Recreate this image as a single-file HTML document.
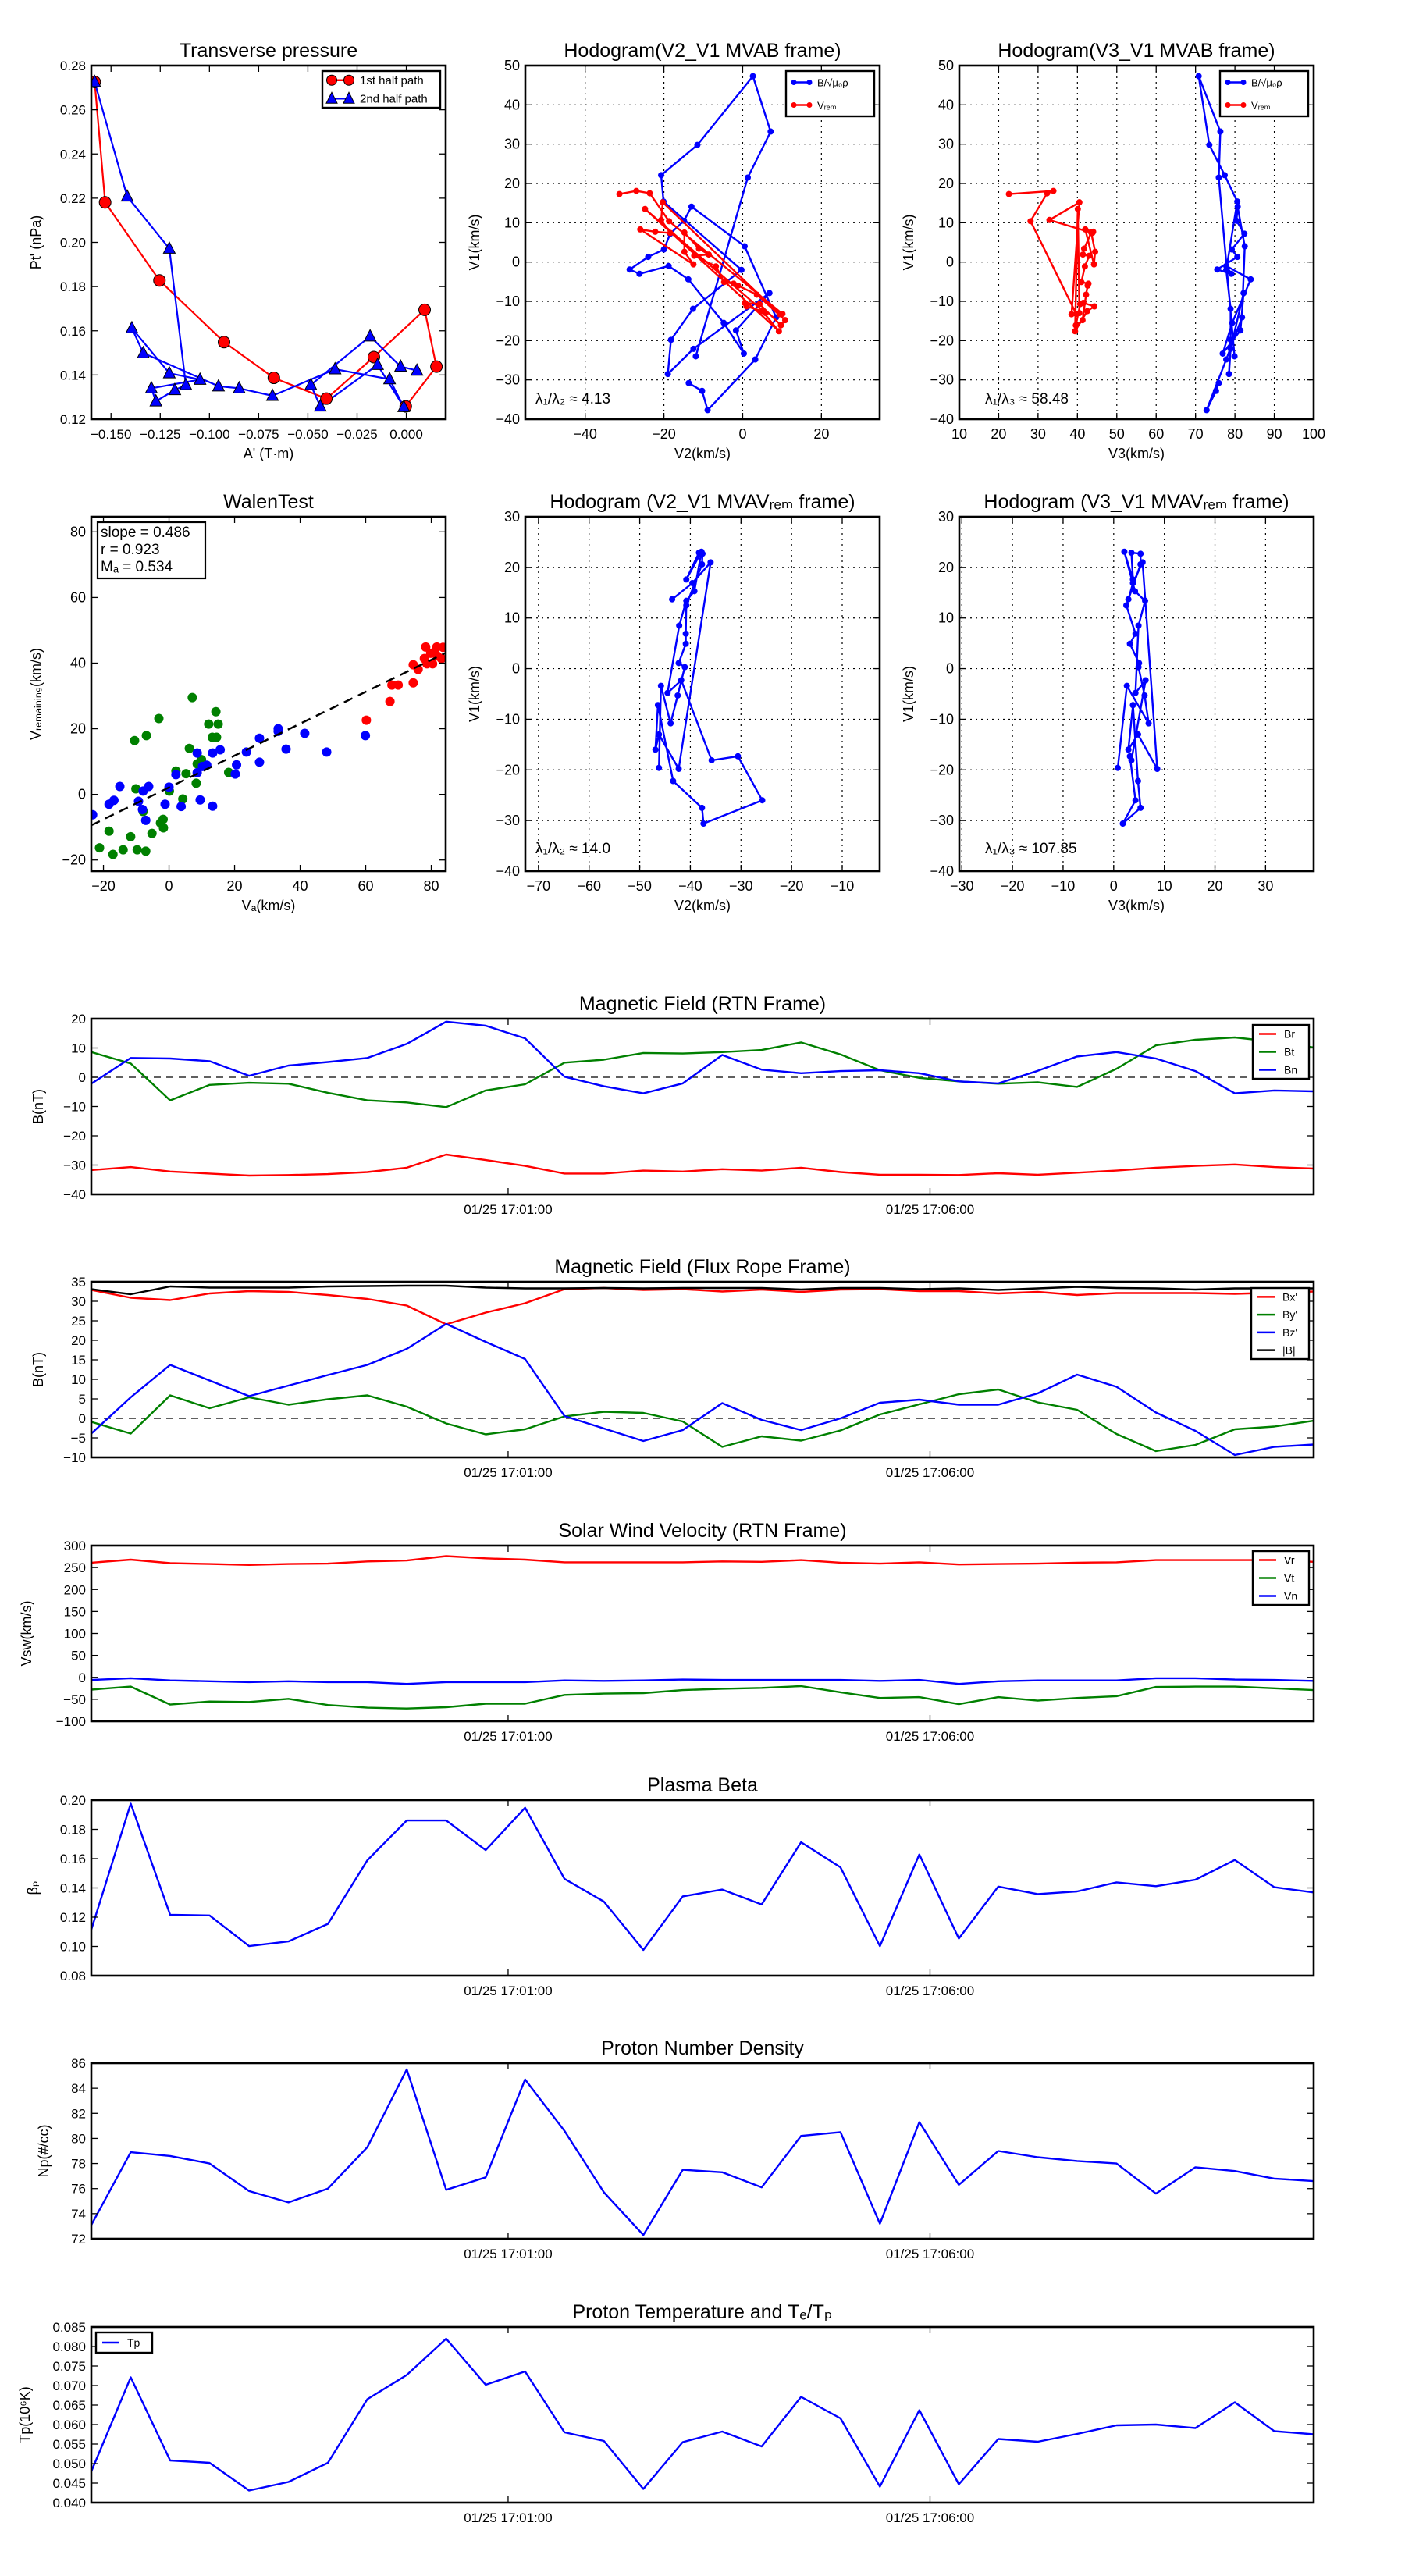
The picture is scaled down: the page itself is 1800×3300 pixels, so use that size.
<!DOCTYPE html>
<html><head><meta charset="utf-8"><title>Flux rope analysis</title>
<style>
html,body{margin:0;padding:0;background:#fff;}
svg{display:block;font-family:"Liberation Sans","DejaVu Sans",sans-serif;}
</style></head>
<body>
<svg id="fig" xmlns="http://www.w3.org/2000/svg" width="1800" height="3300" viewBox="0 0 1800 3300"></svg>
<script>
// ---------- Transverse pressure ----------
const tpRedA = [-0.1583,-0.1530,-0.1254,-0.0926,-0.0673,-0.0406,-0.0165,0.0093,0.0153,-0.0003];
const tpRedP = [0.2726,0.2181,0.1828,0.1549,0.1387,0.1293,0.1481,0.1695,0.1438,0.1258];
const tpBlueA = [-0.1583,-0.1418,-0.1204,-0.1120,-0.1176,-0.1272,-0.1295,-0.1048,-0.1204,-0.1394,-0.1336,-0.0954,-0.0849,-0.0680,-0.0362,-0.0085,-0.0013,-0.0146,-0.0437,-0.0485,-0.0184,-0.0029,0.0054];
const tpBlueP = [0.2726,0.2208,0.1972,0.1355,0.1332,0.1281,0.1340,0.1379,0.1408,0.1612,0.1499,0.1349,0.1340,0.1306,0.1426,0.1381,0.1255,0.1446,0.1258,0.1355,0.1575,0.1438,0.1420];
const tpXTicks = [-0.150,-0.125,-0.100,-0.075,-0.050,-0.025,0.000];
const tpYTicks = [0.12,0.14,0.16,0.18,0.20,0.22,0.24,0.26,0.28];

// ---------- Hodograms MVAB ----------
const hbV1 = [-30.8,-32.8,-37.7,-24.8,-14.1,4.0,14.1,10.5,7.2,3.2,1.3,-1.9,-3.0,-1.0,-4.4,-15.5,-23.3,-17.4,-7.9,-22.1,-28.5,-19.8,-11.9,-2.0,15.4,22.1,29.8,47.3,33.2,21.5,-24.0];
const hbV2 = [-13.7,-10.3,-8.9,3.2,8.5,0.5,-13.0,-14.9,-18.4,-20.0,-24.0,-28.7,-26.2,-18.8,-13.8,-4.8,0.3,-1.7,6.8,-12.5,-19.0,-18.2,-12.6,-0.3,-20.1,-20.7,-11.5,2.6,7.1,1.3,-11.9];
const hbV3 = [75.9,75.2,72.8,77.8,81.8,82.5,80.7,80.4,82.4,79.2,80.6,75.5,79.1,77.8,84.0,79.3,76.9,81.4,82.2,78.9,78.5,78.9,78.9,77.8,80.6,77.4,73.5,70.8,76.3,75.9,79.9];
const hrV1 = [17.3,18.1,17.5,10.4,-13.2,-13.3,15.2,10.7,7.4,7.7,8.3,-0.6,2.6,7.5,3.4,1.9,1.6,-1.1,-5.1,-5.5,-6.0,-8.3,-14.8,-16.1,-10.7,-10.4,-11.3,-12.5,-17.6,13.5,-13.0];
const hrV2 = [-31.3,-27.0,-23.6,-18.7,10.1,9.4,-20.3,-20.7,-18.4,-22.2,-26.0,-12.5,-14.8,-14.8,-11.1,-8.6,-12.3,-6.8,-4.7,-2.3,-1.2,3.6,10.8,9.7,4.3,0.5,1.0,5.0,9.2,-24.8,5.8];
const hrV3 = [22.6,33.9,32.3,28.1,39.7,38.5,40.5,32.9,43.8,44.0,42.0,44.2,44.5,43.5,41.7,41.4,43.0,41.9,41.0,42.8,42.6,42.2,41.3,39.6,40.7,41.5,44.3,42.5,39.4,40.1,40.5];

// ---------- Hodograms MVAV ----------
const hvV1 = [13.7,16.9,21.0,-19.8,-13.0,-16.0,-7.2,-22.2,-27.5,-30.6,-26.0,-17.3,-18.1,-2.3,-4.8,8.5,13.4,15.3,23.1,17.6,22.9,22.7,20.6,12.5,6.9,4.9,1.1,0.3,-5.3,-10.8,-3.4,-19.6];
const hvV2 = [-43.6,-39.6,-36.0,-42.3,-46.2,-46.9,-46.4,-43.4,-37.7,-37.4,-25.8,-30.6,-35.8,-41.8,-44.5,-42.2,-40.8,-39.2,-37.8,-40.8,-38.3,-37.6,-37.7,-40.8,-40.9,-40.9,-42.3,-41.1,-42.5,-43.9,-45.8,-46.2];
const hvV3 = [2.9,3.8,5.7,8.6,4.8,2.9,3.8,4.8,5.3,1.8,4.3,3.2,3.5,6.3,4.3,4.9,6.2,4.2,2.1,3.8,3.5,5.3,5.3,2.5,4.3,3.2,5.0,4.9,6.1,6.9,2.6,0.8];

// ---------- Walen test ----------
const walGreenX = [7.1,-3.1,14.3,12.1,15.0,-10.5,-6.9,13.2,14.5,6.2,9.9,8.6,2.1,5.2,18.2,8.3,-10.1,0.1,4.2,-7.9,-1.8,-2.6,-1.7,-18.3,-5.2,-11.7,-21.2,-14.0,-9.7,-7.1,-17.1];
const walGreenY = [29.5,23.1,25.2,21.4,21.4,16.4,17.9,17.4,17.4,14.0,10.6,9.3,7.1,6.3,6.7,3.4,1.7,1.0,-1.4,-5.2,-7.6,-8.7,-10.2,-11.2,-11.9,-12.9,-16.3,-16.9,-16.9,-17.3,-18.3];
const walBlueX = [33.3,33.3,27.6,41.4,59.9,13.3,15.6,8.6,23.6,35.7,48.1,20.6,11.5,10.2,27.6,8.6,2.1,20.2,-15.0,-6.2,0,-7.9,-16.8,-18.3,-9.3,9.5,-1.2,13.3,3.7,-8.1,-23.3,-7.1];
const walBlueY = [20.0,19.2,17.1,18.6,17.9,12.6,13.6,12.6,12.9,13.8,12.9,9.0,8.9,8.5,9.8,6.6,6.0,6.2,2.4,2.4,2.2,1.0,-1.8,-3.0,-2.1,-1.7,-3.0,-3.6,-3.7,-4.6,-6.2,-7.9];
const walRedX = [60.2,67.4,68.0,69.9,74.5,74.5,76.0,78.3,81.7,83.6,77.9,78.7,80.4,79.8,81.8,83.1,81.0];
const walRedY = [22.6,28.3,33.3,33.3,34.0,39.5,38.1,44.9,44.9,44.8,41.4,39.8,39.8,43.0,42.2,41.4,43.4];
const walSlope = [0.486];
const walIntercept = [2.1];
const walTicks = [-20,0,20,40,60,80];

// ---------- Time series ----------
const tsTickIdx = [10.57,21.27];
const tsTickLabels = ["01/25 17:01:00","01/25 17:06:00"];
const Br = [-31.7,-30.7,-32.2,-32.9,-33.6,-33.4,-33.1,-32.4,-30.9,-26.4,-28.3,-30.3,-32.9,-32.9,-31.9,-32.2,-31.4,-31.9,-30.9,-32.4,-33.3,-33.3,-33.4,-32.8,-33.3,-32.6,-31.9,-30.9,-30.3,-29.8,-30.7,-31.2];
const Bt = [8.6,4.7,-7.9,-2.6,-1.9,-2.2,-5.3,-7.9,-8.6,-10.2,-4.5,-2.4,5.0,6.0,8.3,8.1,8.6,9.3,11.9,7.8,2.4,-0.2,-1.4,-2.2,-1.7,-3.3,2.9,10.9,12.8,13.6,12.1,10.2];
const Bn = [-2.2,6.6,6.4,5.5,0.5,4.0,5.2,6.6,11.4,19.0,17.6,13.3,0.2,-3.1,-5.5,-2.1,7.6,2.6,1.4,2.1,2.4,1.4,-1.4,-2.1,2.2,7.1,8.6,6.4,2.1,-5.5,-4.5,-4.8];
const Bx = [32.9,30.9,30.3,32.0,32.6,32.4,31.6,30.6,28.9,24.1,27.1,29.5,33.1,33.4,32.9,33.1,32.5,33.0,32.4,33.0,33.1,32.6,32.6,32.0,32.4,31.6,32.1,32.1,32.1,31.9,32.2,32.5];
const By = [-0.9,-3.9,5.9,2.6,5.4,3.5,4.9,5.9,3.0,-1.3,-4.1,-2.8,0.5,1.7,1.4,-0.8,-7.3,-4.6,-5.7,-3.1,1.0,3.6,6.2,7.4,4.1,2.2,-4.0,-8.4,-6.8,-2.8,-2.1,-0.6];
const Bz = [-3.9,5.4,13.7,9.7,5.7,8.4,11.1,13.7,17.8,24.2,19.6,15.2,0.6,-2.6,-5.8,-3.0,3.9,-0.4,-3.0,0.0,4.0,4.8,3.5,3.5,6.4,11.2,8.1,1.5,-3.2,-9.4,-7.3,-6.7];
const Bmag = [33.1,31.8,33.8,33.5,33.5,33.5,33.8,33.9,34.0,34.0,33.5,33.3,33.3,33.4,33.3,33.4,33.4,33.4,33.0,33.4,33.4,33.1,33.3,32.9,33.3,33.7,33.4,33.3,33.0,33.3,33.3,33.3];
const Vr = [261,268,260,258,256,258,259,264,266,276,271,268,262,262,262,262,264,263,267,261,259,262,257,258,259,261,262,267,267,267,267,263];
const Vt = [-28,-21,-62,-55,-56,-49,-63,-69,-71,-68,-60,-60,-40,-37,-36,-29,-26,-24,-20,-34,-47,-45,-61,-45,-53,-47,-43,-22,-21,-21,-25,-29];
const Vn = [-6,-2,-7,-9,-11,-9,-11,-11,-15,-11,-11,-11,-7,-8,-7,-5,-6,-6,-6,-6,-8,-6,-15,-9,-7,-7,-7,-2,-2,-5,-6,-8];
const beta = [0.1115,0.1976,0.1216,0.1212,0.1002,0.1034,0.1154,0.1589,0.1861,0.1861,0.1658,0.1948,0.1462,0.1306,0.0976,0.1342,0.1389,0.1287,0.1712,0.1541,0.1002,0.1629,0.1054,0.1409,0.1358,0.1376,0.1438,0.1412,0.1456,0.1591,0.1405,0.1369];
const Np = [73.1,78.9,78.6,78.0,75.8,74.9,76.0,79.3,85.5,75.9,76.9,84.7,80.6,75.7,72.3,77.5,77.3,76.1,80.2,80.5,73.2,81.3,76.3,79.0,78.5,78.2,78.0,75.6,77.7,77.4,76.8,76.6];
const Tp = [0.0480,0.0721,0.0508,0.0502,0.0431,0.0453,0.0502,0.0665,0.0727,0.0820,0.0702,0.0736,0.0580,0.0558,0.0435,0.0555,0.0582,0.0544,0.0671,0.0616,0.0441,0.0637,0.0447,0.0563,0.0556,0.0576,0.0598,0.0600,0.0591,0.0657,0.0583,0.0575];

const NS = "http://www.w3.org/2000/svg";
const fig = document.getElementById('fig');
function mk(tag, attrs, parent, txt){
  const e = document.createElementNS(NS, tag);
  for (const k in attrs) e.setAttribute(k, attrs[k]);
  if (txt !== undefined) e.textContent = txt;
  (parent || fig).appendChild(e);
  return e;
}
function fmt(v, d){ const s = Math.abs(v).toFixed(d); return (v < -1e-9 ? "\u2212" : "") + s; }

function makeAxes(o){
  const g = mk('g', {});
  
  
  const [L,T,R,B] = o.box;
  const sx = v => L + (v - o.xr[0]) / (o.xr[1] - o.xr[0]) * (R - L);
  const sy = v => B - (v - o.yr[0]) / (o.yr[1] - o.yr[0]) * (B - T);
  const plot = mk('g', {}, g);
  
  
  const clipId = o.name + '-clip';
  const cp = mk('clipPath', {id: clipId}, g);
  mk('rect', {x: L, y: T, width: R - L, height: B - T}, cp);
  // grid
  if (o.grid){
    o.xticks.forEach(v => {
      const gl = mk('line', {x1: sx(v), x2: sx(v), y1: T, y2: B, stroke: '#000', 'stroke-width': 1.2, 'stroke-dasharray': '2,5'}, g);
      
      
    });
    o.yticks.forEach(v => {
      const gl = mk('line', {x1: L, x2: R, y1: sy(v), y2: sy(v), stroke: '#000', 'stroke-width': 1.2, 'stroke-dasharray': '2,5'}, g);
      
      
    });
  }
  const data = mk('g', {'clip-path': 'url(#' + clipId + ')'}, g);
  
  
  // ticks
  const xlab = o.xlabels || o.xticks.map(v => fmt(v, o.xd || 0));
  o.xticks.forEach((v, i) => {
    const x = sx(v);
    const t1 = mk('line', {x1: x, x2: x, y1: B, y2: B - 8, stroke: '#000', 'stroke-width': 1.3}, g);
    
    
    const t2 = mk('line', {x1: x, x2: x, y1: T, y2: T + 8, stroke: '#000', 'stroke-width': 1.3}, g);
    
    
    const tl = mk('text', {x: x, y: B + 25, 'font-size': o.tfs || 18, 'text-anchor': 'middle'}, g, xlab[i]);
    
    
  });
  o.yticks.forEach(v => {
    const y = sy(v);
    const t1 = mk('line', {x1: L, x2: L + 8, y1: y, y2: y, stroke: '#000', 'stroke-width': 1.3}, g);
    
    
    const t2 = mk('line', {x1: R, x2: R - 8, y1: y, y2: y, stroke: '#000', 'stroke-width': 1.3}, g);
    
    
    const tl = mk('text', {x: L - 7, y: y + 6, 'font-size': o.tfs || 18, 'text-anchor': 'end'}, g, fmt(v, o.yd || 0));
    
    
  });
  const fr = mk('rect', {x: L, y: T, width: R - L, height: B - T, fill: 'none', stroke: '#000', 'stroke-width': 2.6}, g);
  
  
  const ti = mk('text', {x: (L + R) / 2, y: T - 11, 'font-size': 25, 'text-anchor': 'middle'}, g, o.title);
  
  
  if (o.xlabel){
    const xl = mk('text', {x: (L + R) / 2, y: B + 50, 'font-size': 18, 'text-anchor': 'middle'}, g, o.xlabel);
    
    
  }
  if (o.ylabel){
    const yl = mk('text', {x: 0, y: 0, 'font-size': 18, 'text-anchor': 'middle', transform: 'translate(' + o.ylx + ',' + ((T + B) / 2) + ') rotate(-90)'}, g, o.ylabel);
    
    
  }
  return {g, data, sx, sy, L, T, R, B};
}
function polyline(ax, xs, ys, color, name, w){
  const pts = xs.map((x, i) => ax.sx(x).toFixed(1) + ',' + ax.sy(ys[i]).toFixed(1)).join(' ');
  const p = mk('polyline', {points: pts, fill: 'none', stroke: color, 'stroke-width': w || 2.4, 'stroke-linejoin': 'round'}, ax.data);
  
  
  return p;
}
function dots(ax, xs, ys, color, r, name){
  xs.forEach((x, i) => {
    const c = mk('circle', {cx: ax.sx(x), cy: ax.sy(ys[i]), r: r, fill: color}, ax.data);
    
    
  });
}
function legend(ax, x, y, w, h, items, fs){
  const lg = mk('g', {}, ax.g);
  
  
  const r = mk('rect', {x: x, y: y, width: w, height: h, fill: '#fff', stroke: '#000', 'stroke-width': 2.4}, lg);
  
  
  items.forEach((it, i) => {
    const yy = y + (i + 0.5) * h / items.length;
    const en = mk('g', {}, lg);
    
    
    mk('line', {x1: x + 8, x2: x + 30, y1: yy, y2: yy, stroke: it.c, 'stroke-width': 2.4}, en);
    if (it.m === 'dot'){ mk('circle', {cx: x + 10, cy: yy, r: 3.5, fill: it.c}, en); mk('circle', {cx: x + 30, cy: yy, r: 3.5, fill: it.c}, en); }
    if (it.m === 'big'){ mk('circle', {cx: x + 12, cy: yy, r: 6.5, fill: it.c, stroke: '#000'}, en); mk('circle', {cx: x + 34, cy: yy, r: 6.5, fill: it.c, stroke: '#000'}, en); }
    if (it.m === 'tri'){ [x + 12, x + 34].forEach(cx => mk('polygon', {points: (cx - 7) + ',' + (yy + 6) + ' ' + (cx + 7) + ',' + (yy + 6) + ' ' + cx + ',' + (yy - 8), fill: it.c, stroke: '#000'}, en)); }
    const t = mk('text', {x: x + (it.m === 'big' || it.m === 'tri' ? 48 : 40), y: yy + 5, 'font-size': fs || 14}, en, it.t);
    
    
  });
}

// ===== 1 Transverse pressure =====
const ax1 = makeAxes({name: 'transverse-pressure', box: [117,84,571,537], xr: [-0.16,0.02], yr: [0.12,0.28],
  xticks: tpXTicks, yticks: tpYTicks, xd: 3, yd: 2, tfs: 17, title: 'Transverse pressure', xlabel: "A' (T\u00b7m)", ylabel: "Pt' (nPa)", ylx: 52});
polyline(ax1, tpRedA, tpRedP, '#f00', 'first-half-path-line', 2.2);
polyline(ax1, tpBlueA, tpBlueP, '#00f', 'second-half-path-line', 2.2);
tpRedA.forEach((a, i) => {
  const c = mk('circle', {cx: ax1.sx(a), cy: ax1.sy(tpRedP[i]), r: 7.5, fill: '#f00', stroke: '#000', 'stroke-width': 1}, ax1.data);
  
  
});
tpBlueA.forEach((a, i) => {
  const cx = ax1.sx(a), cy = ax1.sy(tpBlueP[i]);
  const t = mk('polygon', {points: (cx - 7.5) + ',' + (cy + 6) + ' ' + (cx + 7.5) + ',' + (cy + 6) + ' ' + cx + ',' + (cy - 8.5), fill: '#00f', stroke: '#000', 'stroke-width': 1}, ax1.data);
  
  
});
legend(ax1, 413, 91, 151, 47, [{c: '#f00', m: 'big', t: '1st half path'}, {c: '#00f', m: 'tri', t: '2nd half path'}], 15);

// ===== 2 Hodogram V2_V1 MVAB =====
const tk = (a, b, s) => { const r = []; for (let v = a; v <= b + 1e-9; v += s) r.push(v); return r; };
const ax2 = makeAxes({name: 'hodogram-v2-v1-mvab', box: [673,84,1127,537], xr: [-55.2,34.8], yr: [-40,50], grid: true,
  xticks: [-40,-20,0,20], yticks: tk(-40,50,10), title: 'Hodogram(V2_V1 MVAB frame)', xlabel: 'V2(km/s)', ylabel: 'V1(km/s)', ylx: 614});
polyline(ax2, hbV2, hbV1, '#00f', 'b-alfven-line'); dots(ax2, hbV2, hbV1, '#00f', 4, 'b-alfven-point');
polyline(ax2, hrV2, hrV1, '#f00', 'v-remaining-line'); dots(ax2, hrV2, hrV1, '#f00', 4, 'v-remaining-point');
legend(ax2, 1007, 91, 113, 58, [{c: '#00f', m: 'dot', t: 'B/\u221a\u03bc\u2080\u03c1'}, {c: '#f00', m: 'dot', t: 'V\u1d63\u2091\u2098'}], 13);
const l2 = mk('text', {x: 686, y: 517, 'font-size': 19}, ax2.g, '\u03bb\u2081/\u03bb\u2082 \u2248 4.13');



// ===== 3 Hodogram V3_V1 MVAB =====
const ax3 = makeAxes({name: 'hodogram-v3-v1-mvab', box: [1229,84,1683,537], xr: [10,100], yr: [-40,50], grid: true,
  xticks: tk(10,100,10), yticks: tk(-40,50,10), title: 'Hodogram(V3_V1 MVAB frame)', xlabel: 'V3(km/s)', ylabel: 'V1(km/s)', ylx: 1170});
polyline(ax3, hbV3, hbV1, '#00f', 'b-alfven-line'); dots(ax3, hbV3, hbV1, '#00f', 4, 'b-alfven-point');
polyline(ax3, hrV3, hrV1, '#f00', 'v-remaining-line'); dots(ax3, hrV3, hrV1, '#f00', 4, 'v-remaining-point');
legend(ax3, 1563, 91, 113, 58, [{c: '#00f', m: 'dot', t: 'B/\u221a\u03bc\u2080\u03c1'}, {c: '#f00', m: 'dot', t: 'V\u1d63\u2091\u2098'}], 13);
const l3 = mk('text', {x: 1262, y: 517, 'font-size': 19}, ax3.g, '\u03bb\u2081/\u03bb\u2083 \u2248 58.48');



// ===== 4 Walen test =====
const ax4 = makeAxes({name: 'walen-test', box: [117,662,571,1116], xr: [-23.7,84.4], yr: [-23.4,84.6],
  xticks: walTicks, yticks: walTicks, title: 'WalenTest', xlabel: 'V\u2090(km/s)', ylabel: 'V\u1d63\u2091\u2098\u2090\u1d62\u2099\u1d62\u2099\u2089(km/s)', ylx: 52});
dots(ax4, walGreenX, walGreenY, '#008000', 6, 'walen-point-green');
dots(ax4, walBlueX, walBlueY, '#00f', 6, 'walen-point-blue');
dots(ax4, walRedX, walRedY, '#f00', 6, 'walen-point-red');
const fitX = [-23.7, 84.4];
const fit = mk('line', {x1: ax4.sx(fitX[0]), y1: ax4.sy(walSlope[0] * fitX[0] + walIntercept[0]), x2: ax4.sx(fitX[1]), y2: ax4.sy(walSlope[0] * fitX[1] + walIntercept[0]), stroke: '#000', 'stroke-width': 2.4, 'stroke-dasharray': '12,8'}, ax4.data);


const wb = mk('g', {}, ax4.g);


mk('rect', {x: 125, y: 669, width: 138, height: 72, fill: '#fff', stroke: '#000', 'stroke-width': 2.2}, wb);
mk('text', {x: 129, y: 688, 'font-size': 19}, wb, 'slope = 0.486');
mk('text', {x: 129, y: 710, 'font-size': 19}, wb, 'r = 0.923');
mk('text', {x: 129, y: 732, 'font-size': 19}, wb, 'M\u2090 = 0.534');

// ===== 5 Hodogram V2_V1 MVAV =====
const ax5 = makeAxes({name: 'hodogram-v2-v1-mvav', box: [673,662,1127,1116], xr: [-72.6,-2.6], yr: [-40,30], grid: true,
  xticks: tk(-70,-10,10), yticks: tk(-40,30,10), title: 'Hodogram (V2_V1 MVAV\u1d63\u2091\u2098 frame)', xlabel: 'V2(km/s)', ylabel: 'V1(km/s)', ylx: 614});
polyline(ax5, hvV2, hvV1, '#00f', 'b-alfven-line'); dots(ax5, hvV2, hvV1, '#00f', 4, 'b-alfven-point');
const l5 = mk('text', {x: 686, y: 1093, 'font-size': 19}, ax5.g, '\u03bb\u2081/\u03bb\u2082 \u2248 14.0');



// ===== 6 Hodogram V3_V1 MVAV =====
const ax6 = makeAxes({name: 'hodogram-v3-v1-mvav', box: [1229,662,1683,1116], xr: [-30.5,39.5], yr: [-40,30], grid: true,
  xticks: tk(-30,30,10), yticks: tk(-40,30,10), title: 'Hodogram (V3_V1 MVAV\u1d63\u2091\u2098 frame)', xlabel: 'V3(km/s)', ylabel: 'V1(km/s)', ylx: 1170});
polyline(ax6, hvV3, hvV1, '#00f', 'b-alfven-line'); dots(ax6, hvV3, hvV1, '#00f', 4, 'b-alfven-point');
const l6 = mk('text', {x: 1262, y: 1093, 'font-size': 19}, ax6.g, '\u03bb\u2081/\u03bb\u2083 \u2248 107.85');



// ===== Time series =====
const idx = Br.map((_, i) => i);
function tsAxes(name, top, yr, yticks, yd, title, ylabel, ylx){
  return makeAxes({name: name, box: [117, top, 1683, top + 225], xr: [0, 31], yr: yr, xticks: tsTickIdx, xlabels: tsTickLabels,
    yticks: yticks, yd: yd, tfs: 17, title: title, ylabel: ylabel, ylx: ylx});
}
function zeroLine(ax){
  const z = mk('line', {x1: ax.L, x2: ax.R, y1: ax.sy(0), y2: ax.sy(0), stroke: '#000', 'stroke-width': 1.3, 'stroke-dasharray': '9,7'}, ax.data);
  
  
}
const a7 = tsAxes('magnetic-field-rtn', 1305, [-40,20], tk(-40,20,10), 0, 'Magnetic Field (RTN Frame)', 'B(nT)', 55);
zeroLine(a7);
polyline(a7, idx, Br, '#f00', 'br-line'); polyline(a7, idx, Bt, '#008000', 'bt-line'); polyline(a7, idx, Bn, '#00f', 'bn-line');
legend(a7, 1605, 1313, 72, 69, [{c: '#f00', t: 'Br'}, {c: '#008000', t: 'Bt'}, {c: '#00f', t: 'Bn'}], 14);

const a8 = tsAxes('magnetic-field-flux-rope', 1642, [-10,35], tk(-10,35,5), 0, 'Magnetic Field (Flux Rope Frame)', 'B(nT)', 55);
zeroLine(a8);
polyline(a8, idx, Bx, '#f00', 'bx-line'); polyline(a8, idx, By, '#008000', 'by-line');
polyline(a8, idx, Bz, '#00f', 'bz-line'); polyline(a8, idx, Bmag, '#000', 'b-magnitude-line');
legend(a8, 1603, 1650, 74, 91, [{c: '#f00', t: "Bx'"}, {c: '#008000', t: "By'"}, {c: '#00f', t: "Bz'"}, {c: '#000', t: '|B|'}], 14);

const a9 = tsAxes('solar-wind-velocity', 1980, [-100,300], tk(-100,300,50), 0, 'Solar Wind Velocity (RTN Frame)', 'Vsw(km/s)', 40);
polyline(a9, idx, Vr, '#f00', 'vr-line'); polyline(a9, idx, Vt, '#008000', 'vt-line'); polyline(a9, idx, Vn, '#00f', 'vn-line');
legend(a9, 1605, 1987, 72, 69, [{c: '#f00', t: 'Vr'}, {c: '#008000', t: 'Vt'}, {c: '#00f', t: 'Vn'}], 14);

const a10 = tsAxes('plasma-beta', 2306, [0.08,0.20], tk(0.08,0.20,0.02), 2, 'Plasma Beta', '\u03b2\u209a', 48);
polyline(a10, idx, beta, '#00f', 'beta-line');

const a11 = tsAxes('proton-density', 2643, [72,86], tk(72,86,2), 0, 'Proton Number Density', 'Np(#/cc)', 62);
polyline(a11, idx, Np, '#00f', 'density-line');

const a12 = tsAxes('proton-temperature', 2981, [0.040,0.085], tk(0.040,0.085,0.005), 3, 'Proton Temperature and T\u2091/T\u209a', 'Tp(10\u2076K)', 38);
polyline(a12, idx, Tp, '#00f', 'tp-line');
legend(a12, 123, 2988, 72, 26, [{c: '#00f', t: 'Tp'}], 14);
</script>
</body></html>
